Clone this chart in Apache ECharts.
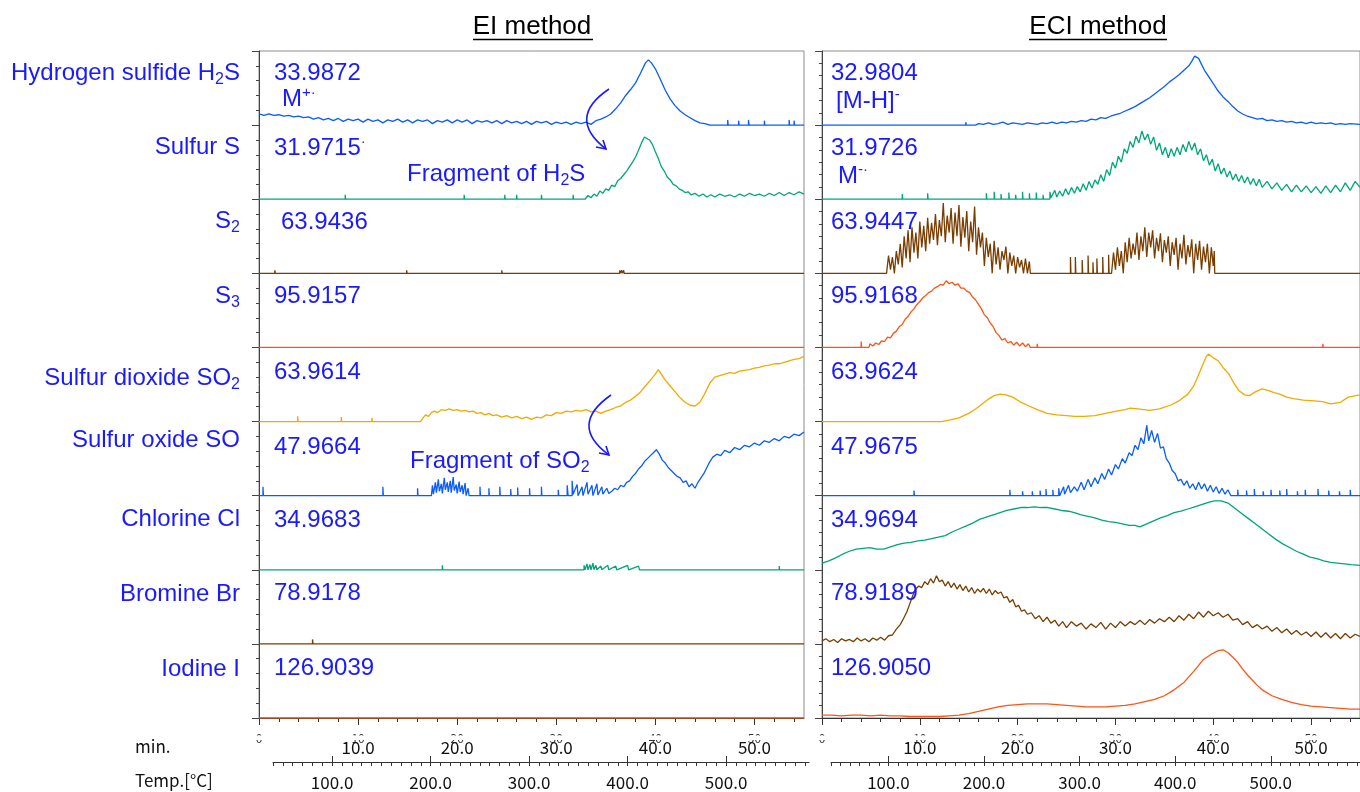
<!DOCTYPE html>
<html>
<head>
<meta charset="utf-8">
<script src="https://cdn.jsdelivr.net/npm/echarts@6/dist/echarts.min.js"></script>
<style>
  html, body { margin: 0; padding: 0; background: #fff; }
  #chart { width: 1360px; height: 792px; }
</style>
</head>
<body>
<div id="chart"></div>
<script>
// row names (top to bottom) and m/z labels
const rowNames = [
  '{a|Hydrogen sulfide H}{s|2}{a|S}', '{a|Sulfur S}', '{a|S}{s|2}', '{a|S}{s|3}',
  '{a|Sulfur dioxide SO}{s|2}', '{a|Sulfur oxide SO}', '{a|Chlorine Cl}', '{a|Bromine Br}', '{a|Iodine I}'
];
const eiMasses = ['33.9872', '31.9715', '63.9436', '95.9157', '63.9614', '47.9664', '34.9683', '78.9178', '126.9039'];
const eciMasses = ['32.9804', '31.9726', '63.9447', '95.9168', '63.9624', '47.9675', '34.9694', '78.9189', '126.9050'];

const timeMajor = [0, 10, 20, 30, 40, 50];
const timeMinor = [2, 4, 6, 8, 12, 14, 16, 18, 22, 24, 26, 28, 32, 34, 36, 38, 42, 44, 46, 48, 52, 54];
const tempMajor = [100, 200, 300, 400, 500];
const tempMinor = [40, 50, 60, 70, 80, 90, 100, 110, 120, 130, 140, 150, 160, 170, 180, 190, 200, 210, 220, 230, 240,
  250, 260, 270, 280, 290, 300, 310, 320, 330, 340, 350, 360, 370, 380, 390, 400, 410, 420, 430, 440, 450, 460, 470,
  480, 490, 500, 510, 520, 530, 540, 550, 560, 570, 580, 590];

// traces: [time (min), intensity (% of row height)]
const eiH2S = [[0,15],[0.5,13],[1,15],[1.5,13],[2,14],[2.5,12],[3,13],[3.5,11],[4,12],[4.5,10],[5,11],[5.5,8],[6,10],[6.5,7],[7,9],[7.5,6],[8,9],[8.5,5],[9,8],[9.5,6],[10,8],[10.5,4],[11,8],[11.5,5],[12,7],[12.5,3],[13,7],[13.5,5],[14,8],[14.5,4],[15,7],[15.5,3],[16,7],[16.5,5],[17,7],[17.5,2],[18,6],[18.5,4],[19,7],[19.5,3],[20,7],[20.5,4],[21,7],[21.5,2],[22,6],[22.5,4],[23,6],[23.5,3],[24,6],[24.5,2],[25,6],[25.5,3],[26,5],[26.5,2],[27,5],[27.5,1],[28,5],[28.5,3],[29,5],[29.5,1],[30,4],[30.5,2],[31,4],[31.5,1],[32,4],[32.5,2],[33,4],[33.5,1],[34,6],[34.5,8],[35,11],[35.5,15],[36,22],[36.5,30],[37,40],[37.5,48],[38,57],[38.5,70],[39,84],[39.3,88],[39.6,84],[40,76],[40.5,62],[41,47],[41.5,35],[42,26],[42.5,19],[43,14],[43.5,10],[44,6],[44.5,3],[45,2],[45.5,0],[47.3,0],[47.3,7],[47.35,0],[48.4,0],[48.4,6],[48.45,0],[49.4,0],[49.4,7],[49.45,0],[51,0],[51,6],[51.05,0],[53.5,0],[53.5,7],[53.55,0],[54,0],[54,6],[54.05,0],[55,0]];
const eiS = [[0,0],[8.7,0],[8.7,6],[8.75,0],[20.7,0],[20.7,6],[20.75,0],[24.8,0],[24.8,6],[24.85,0],[26,0],[26,6],[26.05,0],[28.5,0],[28.5,6],[28.55,0],[31.7,0],[31.7,6],[31.75,0],[32.9,0],[33.2,5],[33.5,2],[33.8,7],[34.1,4],[34.4,11],[34.7,8],[35,14],[35.3,12],[35.6,19],[35.9,17],[36.2,25],[36.5,28],[36.8,33],[37.1,38],[37.4,44],[37.7,50],[38,57],[38.3,66],[38.6,76],[38.9,84],[39.1,86],[39.4,80],[39.7,74],[40,64],[40.3,55],[40.6,44],[40.9,38],[41.2,30],[41.5,26],[41.8,20],[42.1,18],[42.4,14],[42.7,12],[43,9],[43.3,10],[43.6,6],[44,8],[44.4,4],[44.8,7],[45.2,3],[45.6,6],[46,3],[46.5,7],[47,4],[47.5,6],[48,3],[48.5,7],[49,4],[49.5,8],[50,5],[50.5,7],[51,4],[51.5,8],[52,5],[52.5,9],[53,5],[53.5,9],[54,6],[54.5,10],[55,7]];
const eiS2 = [[0,0],[1.6,0],[1.6,4],[1.65,0],[14.9,0],[14.9,4],[14.95,0],[24.5,0],[24.5,4],[24.55,0],[36.4,0],[36.4,4],[36.45,0],[36.6,0],[36.6,4],[36.65,0],[36.8,0],[36.8,4],[36.85,0],[55,0]];
const eiS3 = [[0,0],[55,0]];
const eiSO2 = [[0,0],[3.9,0],[3.9,7],[3.95,0],[8.3,0],[8.3,6],[8.35,0],[11.4,0],[11.4,5],[11.45,0],[16.3,0],[16.5,4],[16.8,9],[17.1,7],[17.4,12],[17.7,14],[18,12],[18.4,16],[18.8,15],[19.2,17],[19.6,15],[20,16],[20.4,14],[20.8,15],[21.2,13],[21.6,14],[22,11],[22.4,12],[22.8,9],[23.2,11],[23.6,8],[24,9],[24.5,6],[25,8],[25.5,5],[26,7],[26.5,4],[27,6],[27.5,3],[28,6],[28.5,5],[29,9],[29.5,8],[30,12],[30.5,11],[31,14],[31.5,13],[32,15],[32.5,14],[33,16],[33.5,13],[34,14],[34.5,11],[35,14],[35.5,16],[36,19],[36.5,21],[37,26],[37.5,29],[38,34],[38.5,40],[39,48],[39.5,56],[40,64],[40.3,70],[40.6,64],[41,56],[41.5,48],[42,40],[42.5,32],[43,26],[43.5,22],[44,21],[44.5,26],[45,38],[45.5,52],[46,60],[46.5,62],[47,64],[47.5,66],[48,65],[48.5,68],[49,69],[49.5,70],[50,72],[50.5,73],[51,75],[51.5,76],[52,78],[52.5,78],[53,80],[53.5,82],[54,84],[54.5,85],[55,88]];
const eiSO = [[0,0],[0.4,0],[0.4,12],[0.45,0],[12.5,0],[12.5,12],[12.55,0],[16,0],[16,10],[16.05,0],[17.4,0],[17.5,14],[17.6,2],[17.8,18],[17.9,4],[18.1,22],[18.2,6],[18.4,16],[18.5,3],[18.7,24],[18.8,8],[19,18],[19.1,5],[19.3,20],[19.4,4],[19.6,25],[19.7,7],[19.9,15],[20,3],[20.2,19],[20.3,5],[20.5,14],[20.6,2],[20.8,17],[20.9,0],[21.1,10],[21.2,0],[22.3,0],[22.3,12],[22.35,0],[23.2,0],[23.2,10],[23.25,0],[24.3,0],[24.3,12],[24.35,0],[25.4,0],[25.4,9],[25.45,0],[26.1,0],[26.1,11],[26.15,0],[27.3,0],[27.3,10],[27.35,0],[28.5,0],[28.5,12],[28.55,0],[30.2,0],[30.2,8],[30.25,0],[31.1,0],[31.1,14],[31.2,0],[31.6,0],[31.6,20],[31.7,2],[32.1,15],[32.2,0],[32.6,12],[32.7,0],[33.1,18],[33.2,2],[33.6,14],[33.7,0],[34.1,16],[34.2,1],[34.6,12],[34.7,2],[35.1,10],[35.3,3],[35.6,6],[35.9,10],[36.2,8],[36.5,14],[36.8,12],[37.1,18],[37.4,20],[37.7,26],[38,30],[38.3,36],[38.6,40],[38.9,46],[39.2,50],[39.5,54],[39.8,58],[40.1,62],[40.4,56],[40.7,48],[41,44],[41.3,38],[41.6,34],[41.9,30],[42.2,26],[42.5,24],[42.8,18],[43.1,20],[43.4,12],[43.7,16],[44,10],[44.3,18],[44.6,24],[44.9,30],[45.2,38],[45.5,46],[45.8,52],[46.2,56],[46.6,54],[47,61],[47.5,58],[48,65],[48.5,62],[49,68],[49.5,66],[50,71],[50.5,68],[51,74],[51.5,72],[52,77],[52.5,74],[53,80],[53.5,78],[54,83],[54.5,81],[55,86]];
const eiCl = [[0,0],[18.5,0],[18.5,6],[18.55,0],[32.8,0],[32.8,6],[32.9,0],[33.1,8],[33.2,0],[33.4,7],[33.5,0],[33.7,9],[33.8,0],[34,6],[34.1,0],[34.5,5],[34.6,0],[35.2,6],[35.3,0],[36,5],[36.1,0],[37.2,6],[37.3,0],[38.3,5],[38.4,0],[52.5,0],[52.5,5],[52.55,0],[55,0]];
const eiBr = [[0,0],[5.4,0],[5.4,6],[5.45,0],[55,0]];
const eiI = [[0,0],[55,0]];

const eciH2S = [[0,0],[14.7,0],[14.7,4],[14.75,0],[15.7,0],[16,2],[16.5,1],[17,3],[17.5,1],[18,2],[18.5,4],[19,1],[19.5,3],[20,2],[20.5,1],[21,3],[21.5,2],[22,1],[22.5,3],[23,2],[23.5,4],[24,2],[24.5,4],[25,3],[25.5,5],[26,4],[26.5,6],[27,5],[27.5,8],[28,7],[28.5,10],[29,9],[29.5,12],[30,14],[30.5,16],[31,19],[31.5,22],[32,25],[32.5,29],[33,33],[33.5,37],[34,42],[34.5,47],[35,52],[35.5,58],[36,63],[36.5,68],[37,74],[37.5,80],[37.8,86],[38.1,93],[38.3,95],[38.5,90],[38.8,82],[39.1,74],[39.5,66],[40,56],[40.5,46],[41,38],[41.5,32],[42,25],[42.5,19],[43,15],[43.5,12],[44,10],[44.5,8],[45,9],[45.5,6],[46,7],[46.5,5],[47,6],[47.5,4],[48,5],[48.5,3],[49,4],[49.5,2],[50,4],[50.5,2],[51,3],[51.5,2],[52,3],[52.5,1],[53,2],[53.5,1],[54,2],[55,1]];
const eciS = [[0,0],[8.2,0],[8.2,7],[8.25,0],[10.8,0],[10.8,8],[10.85,0],[16.8,0],[16.8,8],[16.85,0],[17.6,0],[17.6,10],[17.65,0],[18.3,0],[18.3,7],[18.35,0],[19.1,0],[19.1,9],[19.15,0],[19.8,0],[19.8,6],[19.85,0],[20.5,0],[20.5,10],[20.55,0],[21.2,0],[21.2,8],[21.25,0],[21.9,0],[21.9,9],[21.95,0],[22.6,0],[22.6,6],[22.65,0],[23.3,0],[23.3,10],[23.4,2],[23.8,12],[24,3],[24.3,11],[24.6,4],[24.9,14],[25.2,6],[25.5,16],[25.8,8],[26.1,17],[26.4,10],[26.7,21],[27,12],[27.3,24],[27.6,15],[27.9,26],[28.2,20],[28.5,33],[28.8,24],[29.1,40],[29.4,32],[29.7,50],[30,42],[30.3,58],[30.6,50],[30.9,68],[31.2,62],[31.5,78],[31.8,70],[32.1,85],[32.4,76],[32.7,92],[33,80],[33.3,88],[33.6,74],[33.9,84],[34.2,66],[34.5,76],[34.8,60],[35.1,70],[35.4,56],[35.7,68],[36,58],[36.3,70],[36.6,60],[36.9,74],[37.2,64],[37.5,78],[37.8,66],[38.1,76],[38.4,60],[38.7,68],[39,52],[39.3,60],[39.6,46],[39.9,54],[40.2,38],[40.5,48],[40.8,34],[41.1,42],[41.4,30],[41.7,38],[42,26],[42.3,34],[42.6,24],[42.9,32],[43.2,22],[43.5,30],[43.8,20],[44.1,28],[44.4,18],[44.7,27],[45,16],[45.5,24],[46,14],[46.5,22],[47,12],[47.5,20],[48,10],[48.5,19],[49,10],[49.5,18],[50,9],[50.5,17],[51,8],[51.5,18],[52,9],[52.5,19],[53,10],[53.5,22],[54,12],[54.5,24],[55,16]];
const eciS2 = [[0,0],[6.6,0],[6.8,24],[7,5],[7.2,22],[7.4,0],[7.6,30],[7.8,12],[8,40],[8.2,8],[8.4,50],[8.6,20],[8.8,58],[9,15],[9.2,62],[9.4,28],[9.6,55],[9.8,20],[10,70],[10.2,35],[10.4,64],[10.6,30],[10.8,75],[11,40],[11.2,68],[11.4,45],[11.6,80],[11.8,38],[12,72],[12.2,50],[12.4,95],[12.6,42],[12.8,78],[13,55],[13.2,88],[13.4,40],[13.6,82],[13.8,50],[14,92],[14.2,36],[14.4,76],[14.6,48],[14.8,84],[15,30],[15.2,70],[15.4,42],[15.6,90],[15.8,25],[16,62],[16.2,35],[16.4,55],[16.6,10],[16.8,48],[17,22],[17.2,40],[17.4,0],[17.6,44],[17.8,12],[18,35],[18.2,5],[18.4,30],[18.6,18],[18.8,36],[19,0],[19.2,28],[19.4,10],[19.6,24],[19.8,0],[20,22],[20.2,8],[20.4,18],[20.6,0],[20.8,20],[21,0],[21.2,16],[21.3,0],[25.4,0],[25.4,22],[25.45,0],[25.9,0],[25.9,22],[25.95,0],[26.6,0],[26.6,18],[26.65,0],[27.2,0],[27.2,24],[27.25,0],[27.7,0],[27.7,15],[27.75,0],[28.1,0],[28.1,20],[28.15,0],[28.7,0],[28.7,22],[28.75,0],[29.3,0],[29.3,25],[29.35,0],[29.6,0],[29.8,28],[30,5],[30.2,35],[30.4,10],[30.6,30],[30.8,0],[31,42],[31.2,15],[31.4,48],[31.6,20],[31.8,40],[32,25],[32.2,55],[32.4,18],[32.6,50],[32.8,30],[33,62],[33.2,22],[33.4,55],[33.6,35],[33.8,58],[34,20],[34.2,48],[34.4,30],[34.6,54],[34.8,15],[35,45],[35.2,28],[35.4,50],[35.6,10],[35.8,42],[36,25],[36.2,48],[36.4,5],[36.6,40],[36.8,20],[37,52],[37.2,12],[37.4,38],[37.6,22],[37.8,46],[38,0],[38.2,40],[38.4,18],[38.6,44],[38.8,5],[39,36],[39.2,15],[39.4,40],[39.6,0],[39.8,35],[40,10],[40.1,30],[40.15,0],[55,0]];
const eciS3 = [[0,0],[4,0],[4,8],[4.05,0],[4.8,0],[4.9,5],[5.2,2],[5.5,6],[5.8,4],[6.1,9],[6.4,8],[6.7,14],[7,13],[7.3,19],[7.6,22],[7.9,28],[8.2,31],[8.5,38],[8.8,42],[9.1,48],[9.4,52],[9.7,58],[10,62],[10.3,67],[10.6,70],[10.9,74],[11.2,76],[11.5,80],[11.8,82],[12.1,85],[12.4,84],[12.7,90],[13,86],[13.3,88],[13.6,84],[13.9,86],[14.2,80],[14.5,80],[14.8,76],[15.1,74],[15.4,68],[15.7,64],[16,58],[16.3,52],[16.6,44],[16.9,40],[17.2,33],[17.5,28],[17.8,20],[18.1,16],[18.4,10],[18.7,12],[19,6],[19.3,8],[19.6,3],[19.9,7],[20.2,2],[20.5,6],[20.8,1],[21.1,5],[21.3,0],[22,0],[22,5],[22.05,0],[51.2,0],[51.2,5],[51.25,0],[55,0]];
const eciSO2 = [[0,0],[12.2,0],[13,2],[14,5],[15,11],[15.7,17],[16.4,24],[17.1,31],[17.6,35],[18.2,37],[18.8,36],[19.5,33],[20.2,27],[21,22],[22,16],[23,11],[24,9],[25,8],[25.8,7],[26.8,7],[27.9,8],[29,11],[30.1,14],[31,16],[31.5,18],[32.3,17],[33.5,15],[34.5,17],[35.6,22],[36.5,28],[37.4,37],[38,48],[38.4,60],[38.9,76],[39.3,88],[39.5,91],[40,86],[40.5,82],[41,73],[41.6,64],[42.1,52],[42.6,42],[43.2,36],[43.7,35],[44.3,40],[45,44],[45.6,42],[46.2,39],[46.8,37],[47.5,33],[48.2,31],[49.2,29],[50.3,28],[51.2,27],[52,24],[53,26],[53.8,33],[55,36]];
const eciSO = [[0,0],[9.4,0],[9.4,7],[9.45,0],[19.2,0],[19.2,8],[19.25,0],[20.5,0],[20.5,6],[20.55,0],[21.5,0],[21.5,6],[21.55,0],[22.3,0],[22.3,7],[22.35,0],[22.9,0],[22.9,9],[22.95,0],[23.6,0],[23.6,8],[23.65,0],[24.2,0],[24.2,10],[24.3,0],[24.7,12],[24.8,2],[25.2,14],[25.4,4],[25.8,12],[26.1,6],[26.5,18],[26.8,8],[27.2,22],[27.5,12],[27.9,24],[28.2,16],[28.6,30],[28.9,22],[29.3,36],[29.6,28],[30,42],[30.3,36],[30.7,50],[31,44],[31.4,58],[31.7,54],[32,68],[32.3,62],[32.6,78],[32.9,70],[33.2,95],[33.4,74],[33.7,88],[34,72],[34.3,84],[34.6,64],[34.9,66],[35.2,50],[35.5,44],[35.8,34],[36.1,30],[36.4,20],[36.7,22],[37,14],[37.3,20],[37.6,10],[37.9,16],[38.2,8],[38.5,18],[38.8,9],[39.1,16],[39.4,6],[39.7,14],[40,5],[40.3,12],[40.6,3],[40.9,10],[41.2,2],[41.5,8],[41.8,0],[42.5,0],[42.5,8],[42.55,0],[43.4,0],[43.4,7],[43.45,0],[44.2,0],[44.2,9],[44.25,0],[45.1,0],[45.1,6],[45.15,0],[45.9,0],[45.9,8],[45.95,0],[46.8,0],[46.8,7],[46.85,0],[47.5,0],[47.5,9],[47.55,0],[48.6,0],[48.6,6],[48.65,0],[49.4,0],[49.4,8],[49.45,0],[50.7,0],[50.7,9],[50.75,0],[51.8,0],[51.8,7],[51.85,0],[52.9,0],[52.9,6],[52.95,0],[54,0],[54,8],[54.05,0],[55,0]];
const eciCl = [[0,9],[0.7,12],[1.4,16],[2.1,21],[2.8,25],[3.5,28],[4.2,29],[4.9,30],[5.6,28],[6.3,28],[7,31],[7.7,34],[8.4,36],[9.1,37],[9.8,39],[10.5,40],[11.2,42],[11.9,44],[12.6,46],[13.3,51],[14,55],[14.7,59],[15.4,63],[16.1,68],[16.8,71],[17.5,74],[18.2,77],[18.9,80],[19.6,82],[20.3,84],[21,84],[21.7,85],[22.4,84],[23.1,84],[23.8,82],[24.5,80],[25.2,79],[25.8,77],[26.5,74],[27.2,72],[27.9,70],[28.6,67],[29.3,65],[30,64],[30.7,62],[31.4,60],[32,60],[32.5,58],[33.2,62],[33.9,66],[34.6,70],[35.3,73],[36,77],[36.7,79],[37.4,82],[38.1,85],[38.8,88],[39.5,91],[40.1,93],[40.8,93],[41.5,90],[42.2,83],[42.9,76],[43.6,69],[44.3,62],[45,55],[45.7,48],[46.4,41],[47.1,35],[47.8,30],[48.5,25],[49.2,21],[49.9,17],[50.6,15],[51.3,12],[52,10],[52.7,9],[53.4,8],[54.1,7],[55,6]];
const eciBr = [[0,4],[0.4,7],[0.8,3],[1.2,6],[1.6,2],[2,7],[2.4,4],[2.8,6],[3.2,3],[3.6,8],[4,4],[4.4,7],[4.8,3],[5.2,8],[5.6,5],[6,9],[6.4,5],[6.8,11],[7.2,12],[7.6,20],[8,26],[8.4,36],[8.7,44],[9,55],[9.3,66],[9.6,74],[9.9,78],[10.2,76],[10.5,84],[10.8,80],[11.1,88],[11.4,82],[11.7,92],[12,84],[12.3,86],[12.6,78],[12.9,84],[13.2,76],[13.5,82],[13.8,74],[14.1,80],[14.4,72],[14.7,78],[15,70],[15.3,76],[15.6,68],[15.9,74],[16.2,70],[16.5,75],[16.8,68],[17.1,74],[17.4,66],[17.7,72],[18,68],[18.3,70],[18.6,62],[18.9,64],[19.2,56],[19.5,60],[19.8,50],[20.1,52],[20.4,44],[20.7,46],[21,40],[21.4,42],[21.8,34],[22.2,38],[22.6,30],[23,36],[23.4,28],[23.8,32],[24.2,24],[24.6,30],[25,22],[25.5,30],[26,24],[26.5,28],[27,20],[27.5,27],[28,22],[28.5,29],[29,20],[29.5,28],[30,22],[30.5,30],[31,24],[31.5,30],[32,26],[32.5,32],[33,26],[33.5,33],[34,28],[34.5,34],[35,30],[35.5,36],[36,30],[36.5,38],[37,32],[37.5,40],[38,34],[38.5,43],[39,36],[39.5,44],[40,38],[40.5,42],[41,36],[41.5,40],[42,32],[42.5,34],[43,26],[43.5,30],[44,22],[44.5,26],[45,20],[45.5,24],[46,17],[46.5,22],[47,15],[47.5,20],[48,13],[48.5,18],[49,12],[49.5,16],[50,10],[50.5,16],[51,9],[51.5,15],[52,8],[52.5,14],[53,7],[53.5,14],[54,8],[54.5,13],[55,10]];
const eciI = [[0,4],[1,4],[2,3],[3,4],[4,4],[5,3],[6,4],[7,3],[8,3],[9,2],[10,2],[11,2],[12,2],[13,3],[14,4],[15,6],[16,9],[17,12],[18,15],[19,17],[20,18],[21,19],[22,19],[23,19],[24,18],[25,17],[26,16],[27,15],[28,15],[29,15],[30,16],[31,17],[32,19],[33,22],[34,25],[35,30],[36,38],[37,48],[38,63],[39,79],[39.8,86],[40.5,91],[41,92],[41.5,88],[42,82],[42.5,75],[43,66],[43.5,58],[44,51],[44.5,44],[45,38],[46,30],[47,25],[48,21],[49,18],[50,16],[51,15],[52,14],[53,13],[54,12],[55,12]];

const eiTraces = [eiH2S, eiS, eiS2, eiS3, eiSO2, eiSO, eiCl, eiBr, eiI];
const eciTraces = [eciH2S, eciS, eciS2, eciS3, eciSO2, eciSO, eciCl, eciBr, eciI];

const ROWS = 9;
const rowColors = ['#0a5cff', '#00a67a', '#7a3d00', '#ff5314', '#f2a900', '#0a5cff', '#00a67a', '#7a3d00', '#ff5314'];
const BLUE = '#1a1aff';
const LATIN = '"Liberation Sans", Arial, sans-serif';
const JP = '"Noto Sans CJK JP", sans-serif';

const chart = echarts.init(document.getElementById('chart'));

// panel p uses xAxis 2p (time axis with ticks) and yAxis p
function buildSeries(traces, p) {
  return traces.map((trace, r) => ({
    type: 'line',
    xAxisIndex: p * 2,
    yAxisIndex: p,
    symbol: 'none',
    animation: false,
    lineStyle: { color: rowColors[r], width: 1.3 },
    data: trace.map(([t, v]) => [t, (ROWS - 1 - r) + v / 100])
  }));
}

function timeAxes(g) {
  return [
    {
      gridIndex: g, type: 'value', min: 0, max: 55, position: 'bottom',
      axisLine: { lineStyle: { color: '#333' } },
      axisTick: { customValues: timeMajor, length: 7, lineStyle: { color: '#333' } },
      axisLabel: { customValues: timeMajor, fontSize: 12, margin: 14, color: '#333', fontFamily: JP },
      splitLine: { show: false }
    },
    {
      gridIndex: g, type: 'value', min: 0, max: 55, position: 'bottom',
      axisLine: { show: false },
      axisTick: { customValues: timeMinor, length: 4, lineStyle: { color: '#333' } },
      axisLabel: {
        customValues: timeMajor.slice(1), formatter: (v) => v.toFixed(1),
        fontSize: 17, margin: 21, color: '#111', fontFamily: JP
      },
      splitLine: { show: false }
    }
  ];
}

function tempAxes(g, max) {
  return [
    {
      gridIndex: g, type: 'value', min: 40, max: max, position: 'bottom',
      axisLine: { lineStyle: { color: '#333' } },
      axisTick: { customValues: tempMajor, inside: true, length: 6, lineStyle: { color: '#333' } },
      axisLabel: {
        customValues: tempMajor, formatter: (v) => v.toFixed(1),
        fontSize: 17, margin: 12, color: '#111', fontFamily: JP
      },
      splitLine: { show: false }
    },
    {
      gridIndex: g, type: 'value', min: 40, max: max, position: 'bottom',
      axisLine: { show: false },
      axisTick: { customValues: tempMinor, length: 4, lineStyle: { color: '#333' } },
      axisLabel: { show: false },
      splitLine: { show: false }
    }
  ];
}

function rowAxis(g, split) {
  return {
    gridIndex: g, type: 'value', min: 0, max: ROWS, interval: 1,
    axisLine: { show: true, lineStyle: { color: '#444' } },
    axisTick: { show: true, length: 7, lineStyle: { color: '#444' } },
    minorTick: { show: true, splitNumber: split, length: 3, lineStyle: { color: '#444' } },
    axisLabel: { show: false },
    splitLine: { show: false }
  };
}

const rich = {
  a: { fontSize: 24, fontFamily: LATIN, fill: BLUE },
  s: { fontSize: 16, fontFamily: LATIN, fill: BLUE, padding: [13, 0, 0, 0] },
  p: { fontSize: 15, fontFamily: LATIN, fill: BLUE, padding: [0, 0, 13, 0] }
};

function label(x, y, text, align) {
  return {
    type: 'text', x: x, y: y, z: 50,
    style: { text: text, rich: rich, fill: BLUE, font: '24px ' + LATIN, align: align || 'left', verticalAlign: 'middle' }
  };
}

const rowLabelY = [73, 147, 221, 296, 378, 440, 519, 594, 669];
const massY = [73, 148, 222, 296, 372, 447, 520, 593, 668];

const graphics = [];
rowNames.forEach((n, i) => graphics.push(label(240, rowLabelY[i], n, 'right')));
eiMasses.forEach((m, i) => {
  const txt = i === 1 ? '{a|' + m + '}{p|·}' : '{a|' + m + '}';
  graphics.push(label(i === 2 ? 281 : 274, massY[i], txt));
});
eciMasses.forEach((m, i) => graphics.push(label(831, massY[i], '{a|' + m + '}')));
graphics.push(label(282, 99, '{a|M}{p|+·}'));
graphics.push(label(836, 101, '{a|[M-H]}{p|-}'));
graphics.push(label(838, 176, '{a|M}{p|-·}'));
graphics.push(label(407, 174, '{a|Fragment of H}{s|2}{a|S}'));
graphics.push(label(410, 461, '{a|Fragment of SO}{s|2}'));

// titles with underline
[['EI method', 532], ['ECI method', 1098]].forEach(([t, cx]) => {
  graphics.push({
    type: 'text', x: cx, y: 27,
    style: { text: t, font: '26px ' + LATIN, fill: '#000', align: 'center', verticalAlign: 'middle' }
  });
});
graphics.push({ type: 'line', shape: { x1: 473, y1: 39.5, x2: 593, y2: 39.5 }, style: { stroke: '#000', lineWidth: 1.5 } });
graphics.push({ type: 'line', shape: { x1: 1029, y1: 39.5, x2: 1167, y2: 39.5 }, style: { stroke: '#000', lineWidth: 1.5 } });

// curved arrows
[[609, 89, 566, 118, 606, 149], [611, 395, 568, 425, 609, 455]].forEach(([x1, y1, cx, cy, x2, y2]) => {
  graphics.push({
    type: 'bezierCurve', z: 50,
    shape: { x1: x1, y1: y1, x2: x2, y2: y2, cpx1: cx, cpy1: cy },
    style: { stroke: BLUE, lineWidth: 1.6, fill: null }
  });
  graphics.push({
    type: 'polyline', z: 50,
    shape: { points: [[x2 - 10, y2 - 2], [x2, y2], [x2 - 3, y2 - 9]] },
    style: { stroke: BLUE, lineWidth: 1.6, fill: null }
  });
});

graphics.push({ type: 'text', x: 135, y: 747, style: { text: 'min.', font: '17px ' + JP, fill: '#111', verticalAlign: 'middle' } });
graphics.push({ type: 'text', x: 135, y: 781, style: { text: 'Temp.[°C]', font: '17px ' + JP, fill: '#111', verticalAlign: 'middle' } });
// hides most of the small clipped time labels
graphics.push({ type: 'rect', z: 100, shape: { x: 250, y: 735.5, width: 1110, height: 4.5 }, style: { fill: '#fff' } });

chart.setOption({
  animation: false,
  grid: [
    { left: 259, top: 51, width: 545, height: 667, show: true, borderColor: '#8c8c8c', borderWidth: 1 },
    { left: 822, top: 51, width: 545, height: 667, show: true, borderColor: '#8c8c8c', borderWidth: 1 },
    { left: 273, top: 700, width: 536, height: 62 },
    { left: 831, top: 700, width: 545, height: 62 }
  ],
  xAxis: [
    ...timeAxes(0), ...timeAxes(1),
    ...tempAxes(2, 40 + 536 / 0.985), ...tempAxes(3, 40 + 545 / 0.985)
  ],
  yAxis: [
    rowAxis(0, 5), rowAxis(1, 6),
    { gridIndex: 2, show: false, min: 0, max: 1 },
    { gridIndex: 3, show: false, min: 0, max: 1 }
  ],
  series: [...buildSeries(eiTraces, 0), ...buildSeries(eciTraces, 1)],
  graphic: graphics
});

window.addEventListener('resize', () => {
  chart.resize();
});
</script>
</body>
</html>
